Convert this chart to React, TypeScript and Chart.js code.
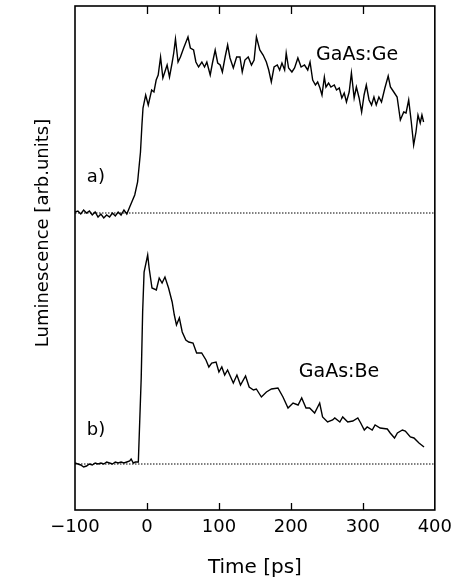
import { useEffect, useRef } from "react";
import { Chart, registerables } from "chart.js";

Chart.register(...registerables);

const WIDTH = 459;
const HEIGHT = 584;
const FONT = "DejaVu Sans";

// Time axis ticks [ps]
const X_TICKS = [-100, 0, 100, 200, 300, 400];

// a) GaAs:Ge — time [ps] and luminescence above its own baseline [arb. units]
const TIME_GE = [
  -100, -96, -92, -88, -84, -80, -76, -72, -68, -64, -60, -56, -52, -48, -44, -40, -36, -32, -28,
  -24, -17, -13, -9, -7, -5.5, -1.8, 1.8, 6.5, 9.7, 12.8, 15.6, 18.9, 22.1, 25.7, 28, 31.3, 34.9,
  37.2, 39.6, 43.2, 46.5, 51, 57, 60.3, 64.8, 68, 71.7, 76.3, 80, 83.2, 87.9, 91, 94.8, 98.3, 101.7,
  104.8, 108.6, 112.1, 115.4, 120, 124.6, 129.2, 132.4, 136.1, 140.7, 145.2, 148.9, 152.1, 156.8,
  161.4, 165.9, 169.2, 172.8, 176.6, 181.1, 184.4, 187.6, 191.3, 193.5, 196.8, 201.4, 205.1, 209.7,
  214.2, 218.9, 223.4, 226.6, 230.3, 234.1, 237.2, 240.4, 243.2, 246.5, 248.7, 252.4, 255.6, 260.3,
  263.4, 267.2, 270.8, 274.1, 277.2, 281, 284.1, 287.9, 291, 294.8, 298.3, 301.7, 304.8, 308.6,
  312.1, 315.4, 318.6, 322.3, 325.9, 330.6, 335.2, 338.3, 343, 347.6, 352.1, 356.8, 360, 363.7,
  367.3, 370.6, 373.8, 376.6, 379.7, 382.1, 384.4,
];
const LUM_GE = [
  1, 2, -1, 3, 0, 2, -2, 1, -4, -1, -5, -2, -4, 0, -3, 1, -2, 3, -1,
  6, 18, 31, 61, 88, 105, 118, 108, 123, 121, 133, 138, 156, 135, 143, 148, 136, 150,
  160, 174, 151, 156, 165, 176, 165, 163, 151, 146, 151, 146, 151, 138, 150, 163, 150, 148,
  141, 156, 168, 155, 145, 156, 156, 141, 153, 156, 148, 153, 176, 163,
  158, 151, 143, 131, 146, 148, 143, 150, 143, 160, 145, 141, 145, 155,
  146, 148, 143, 151, 133, 128, 131, 125, 118, 136, 126, 130, 126, 128,
  123, 125, 115, 120, 111, 121, 140, 115, 126, 115, 101, 118, 128, 113,
  108, 116, 108, 116, 111, 125, 137, 126, 121, 116, 93, 101, 100, 113,
  91, 68, 81, 98, 90, 98, 91,
];

// b) GaAs:Be — time [ps] and luminescence above its baseline [arb. units]
const TIME_BE = [
  -100, -96, -92, -88, -84, -80, -76, -72, -68, -64, -60, -56, -52, -48, -44, -40, -36, -32, -28, -24,
  -22, -19, -16, -12, -8, -6, -4, 1, 3, 7, 13, 17, 21, 25, 30, 35, 38, 41, 45, 49, 54, 58, 64, 69, 76,
  82, 86, 90, 96, 100, 104, 108, 112, 120, 125, 130, 137, 142, 148, 152, 159, 166, 173, 182, 189, 196,
  203, 210, 215, 221, 226, 233, 240, 244, 251, 258, 261, 268, 272, 279, 286, 293, 297, 302, 306, 313,
  317, 324, 334, 338, 344, 348, 355, 359, 366, 371, 378, 385,
];
const LUM_BE = [
  1, 0, -1, -3, -2, 0, -1, 1, 0, 1, 0, 2, 1, 0, 2, 1, 2, 1, 2, 3,
  5, 1, 2, 2, 86, 152, 192, 209, 196, 176, 174, 186, 181, 187, 176, 162, 149, 139, 146, 132, 124, 122, 121, 111, 111,
  104, 97, 101, 102, 92, 97, 89, 94, 81, 89, 79, 88, 77, 74, 75, 67, 72, 75, 76, 67, 56,
  61, 59, 66, 56, 56, 51, 61, 47, 42, 44, 46, 42, 47, 42, 43, 46, 41, 34, 37, 34,
  39, 36, 35, 31, 26, 31, 34, 33, 27, 26, 21, 17,
];

// Vertical offset of trace a) above trace b)
const GE_OFFSET = 251;
const Y_MIN = -46;
const Y_MAX = 458;

// In-plot annotations, placed in data coordinates
const LABEL_TEXT = ["GaAs:Ge", "GaAs:Be", "a)", "b)"];
const LABEL_T = [235, 211, -83.5, -83.5];
const LABEL_Y = [409, 92, 287, 34];

const Y_TITLE = "Luminescence [arb.units]";
const X_TITLE = "Time [ps]";

const framePlugin = {
  id: "frame",
  afterDatasetsDraw(chart: any) {
    const { ctx, chartArea, scales } = chart;
    const { left, right, top, bottom } = chartArea;
    const xs = scales.x;
    const ys = scales.y;
    ctx.save();
    ctx.strokeStyle = "#000";
    ctx.lineWidth = 1.6;
    ctx.strokeRect(left, top, right - left, bottom - top);

    // inward tick marks on bottom and top edges
    ctx.lineWidth = 1.3;
    ctx.beginPath();
    for (const t of X_TICKS.slice(1, -1)) {
      const px = Math.round(xs.getPixelForValue(t)) + 0.5;
      ctx.moveTo(px, bottom);
      ctx.lineTo(px, bottom - 7);
      ctx.moveTo(px, top);
      ctx.lineTo(px, top + 8);
    }
    ctx.stroke();

    ctx.fillStyle = "#000";
    ctx.textBaseline = "middle";

    // trace labels
    ctx.textAlign = "left";
    LABEL_TEXT.forEach((txt, i) => {
      ctx.font = `${i < 2 ? 19 : 18}px "${FONT}"`;
      ctx.fillText(txt, xs.getPixelForValue(LABEL_T[i]), ys.getPixelForValue(LABEL_Y[i]));
    });

    // horizontal axis title
    ctx.font = `20px "${FONT}"`;
    ctx.textAlign = "center";
    ctx.fillText(X_TITLE, (left + right) / 2, bottom + 58);

    // vertical axis title
    ctx.font = `18px "${FONT}"`;
    ctx.translate(left - 32, ys.getPixelForValue(231));
    ctx.rotate(-Math.PI / 2);
    ctx.fillText(Y_TITLE, 0, 0);
    ctx.restore();
  },
};

export default function App() {
  const canvasRef = useRef<HTMLCanvasElement | null>(null);

  useEffect(() => {
    const canvas = canvasRef.current;
    if (!canvas) return;

    const traceGe = TIME_GE.map((t, i) => ({ x: t, y: LUM_GE[i] + GE_OFFSET }));
    const traceBe = TIME_BE.map((t, i) => ({ x: t, y: LUM_BE[i] }));
    const base = (y: number) => [
      { x: X_TICKS[0], y },
      { x: X_TICKS[X_TICKS.length - 1], y },
    ];

    const lineStyle = {
      borderColor: "#000",
      borderWidth: 1.4,
      pointRadius: 0,
      tension: 0,
      fill: false,
    };
    const dotStyle = {
      borderColor: "#000",
      borderWidth: 1,
      borderDash: [1.5, 1.5],
      pointRadius: 0,
      fill: false,
    };

    const chart = new Chart(canvas, {
      type: "line",
      data: {
        datasets: [
          { label: "base a", data: base(GE_OFFSET), ...dotStyle },
          { label: "base b", data: base(0), ...dotStyle },
          { label: "GaAs:Ge", data: traceGe, ...lineStyle },
          { label: "GaAs:Be", data: traceBe, ...lineStyle },
        ],
      },
      options: {
        responsive: false,
        animation: false,
        devicePixelRatio: 1,
        layout: { padding: { left: 75, right: 21, top: 6, bottom: 0 } },
        plugins: {
          legend: { display: false },
          tooltip: { enabled: false },
        },
        scales: {
          x: {
            type: "linear",
            min: X_TICKS[0],
            max: X_TICKS[X_TICKS.length - 1],
            afterBuildTicks: (scale: any) => {
              scale.ticks = X_TICKS.map((v) => ({ value: v }));
            },
            afterFit: (scale: any) => {
              scale.height = 74;
            },
            grid: { display: false, drawTicks: false },
            border: { display: false },
            ticks: {
              padding: 7,
              color: "#000",
              maxRotation: 0,
              font: { family: FONT, size: 18 },
              callback: (v: any) => String(v).replace("-", "\u2212"),
            },
          },
          y: {
            type: "linear",
            min: Y_MIN,
            max: Y_MAX,
            display: false,
          },
        },
      },
      plugins: [framePlugin],
    });

    return () => chart.destroy();
  }, []);

  return (
    <div
      style={{
        position: "absolute",
        left: 0,
        top: 0,
        width: WIDTH,
        height: HEIGHT,
        background: "#fff",
      }}
    >
      <canvas ref={canvasRef} width={WIDTH} height={HEIGHT} />
    </div>
  );
}
